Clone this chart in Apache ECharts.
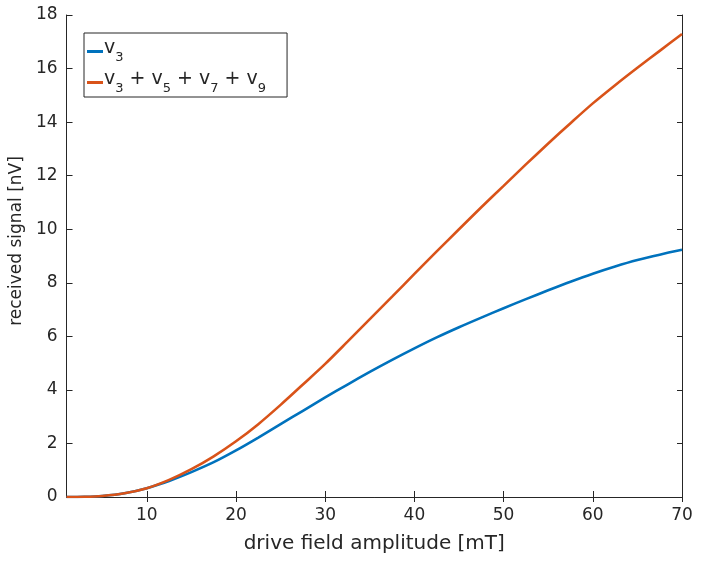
<!DOCTYPE html>
<html>
<head>
<meta charset="utf-8">
<script src="https://cdn.jsdelivr.net/npm/echarts@6/dist/echarts.min.js"></script>
<style>
  html, body { margin: 0; padding: 0; background: #fff; }
  #container { width: 701px; height: 561px; }
</style>
</head>
<body>
<div id="container"></div>
<script>
// values
var fieldMT = [1, 3, 5, 7.5, 10, 12.5, 15, 17.5, 20, 22.5, 25, 27.5, 30, 32.5, 35, 37.5, 40, 42.5, 45, 47.5, 50, 52.5, 55, 57.5, 60, 62.5, 65, 67.5, 70];
var v3 = [0, 0.008, 0.04, 0.14, 0.33, 0.6, 0.93, 1.3, 1.74, 2.22, 2.72, 3.22, 3.72, 4.2, 4.67, 5.12, 5.55, 5.96, 6.34, 6.7, 7.05, 7.39, 7.72, 8.04, 8.34, 8.61, 8.85, 9.05, 9.23];
var v3579 = [0, 0.008, 0.04, 0.14, 0.33, 0.64, 1.04, 1.52, 2.08, 2.72, 3.44, 4.2, 4.97, 5.8, 6.64, 7.48, 8.33, 9.17, 10.0, 10.82, 11.62, 12.42, 13.2, 13.96, 14.7, 15.38, 16.03, 16.66, 17.29];
var xTicks = [10, 20, 30, 40, 50, 60, 70];

var axisColor = '#262626';
var font = 'DejaVu Sans';

var dom = document.getElementById('container');
var myChart = echarts.init(dom, null, {renderer: 'canvas'});

function pairs(xs, ys) {
    return xs.map(function (x, i) { return [x, ys[i]]; });
}

var sideLine = {show: true, lineStyle: {color: axisColor, width: 1}};

var option = {
    animation: false,
    backgroundColor: '#fff',
    grid: {left: 65, right: 19, top: 15, bottom: 64},
    legend: {
        left: 84,
        top: 33,
        orient: 'vertical',
        icon: 'rect',
        itemWidth: 16,
        itemHeight: 3,
        itemGap: 6,
        padding: [6, 21, 2, 3],
        backgroundColor: '#fff',
        borderColor: axisColor,
        borderWidth: 1,
        borderRadius: 0,
        data: ['v3', 'v3579'],
        formatter: function (name) {
            if (name === 'v3') return '{m|v}{s|3}';
            return '{m|v}{s|3}{m| + v}{s|5}{m| + v}{s|7}{m| + v}{s|9}';
        },
        textStyle: {
            color: axisColor,
            fontFamily: font,
            padding: [0, 0, 0, -4],
            rich: {
                m: {fontSize: 19, fontFamily: font, color: axisColor, lineHeight: 25, verticalAlign: 'top'},
                s: {fontSize: 13, fontFamily: font, color: axisColor, lineHeight: 25, verticalAlign: 'bottom'}
            }
        }
    },
    xAxis: [{
        type: 'value',
        min: 1,
        max: 70,
        name: 'drive field amplitude [mT]',
        nameLocation: 'middle',
        nameGap: 37,
        nameTextStyle: {fontSize: 20, fontFamily: font, color: axisColor},
        axisLine: {show: true, onZero: false, lineStyle: {color: axisColor, width: 1}},
        axisTick: {show: true, inside: true, length: 6, customValues: xTicks, lineStyle: {color: axisColor}},
        axisLabel: {show: true, customValues: xTicks, margin: 10, fontSize: 17, fontFamily: font, color: axisColor},
        splitLine: {show: false}
    }, {
        type: 'value', position: 'top', min: 1, max: 70,
        axisLine: sideLine,
        axisTick: {show: true, inside: true, length: 5, customValues: xTicks, lineStyle: {color: axisColor}},
        axisLabel: {show: false},
        splitLine: {show: false}
    }],
    yAxis: [{
        type: 'value',
        min: 0,
        max: 18,
        interval: 2,
        name: 'received signal [nV]',
        nameLocation: 'middle',
        nameGap: 39,
        nameTextStyle: {fontSize: 17, fontFamily: font, color: axisColor, padding: [0, 0, 0, 30]},
        axisLine: {show: true, lineStyle: {color: axisColor, width: 1}},
        axisTick: {show: true, inside: true, length: 6, lineStyle: {color: axisColor}},
        axisLabel: {margin: 9, fontSize: 17, fontFamily: font, color: axisColor},
        splitLine: {show: false}
    }, {
        type: 'value', position: 'right', min: 0, max: 18, interval: 2,
        axisLine: sideLine,
        axisTick: {show: true, inside: true, length: 5, lineStyle: {color: axisColor}},
        axisLabel: {show: false},
        splitLine: {show: false}
    }],
    series: [
        {
            name: 'v3',
            type: 'line',
            data: pairs(fieldMT, v3),
            smooth: 0.3,
            showSymbol: false,
            symbol: 'none',
            lineStyle: {color: '#0072BD', width: 2.6},
            itemStyle: {color: '#0072BD'}
        },
        {
            name: 'v3579',
            type: 'line',
            data: pairs(fieldMT, v3579),
            smooth: 0.3,
            showSymbol: false,
            symbol: 'none',
            lineStyle: {color: '#D95319', width: 2.6},
            itemStyle: {color: '#D95319'}
        }
    ]
};

myChart.setOption(option);
window.addEventListener('resize', function () {
    myChart.resize();
});
</script>
</body>
</html>
